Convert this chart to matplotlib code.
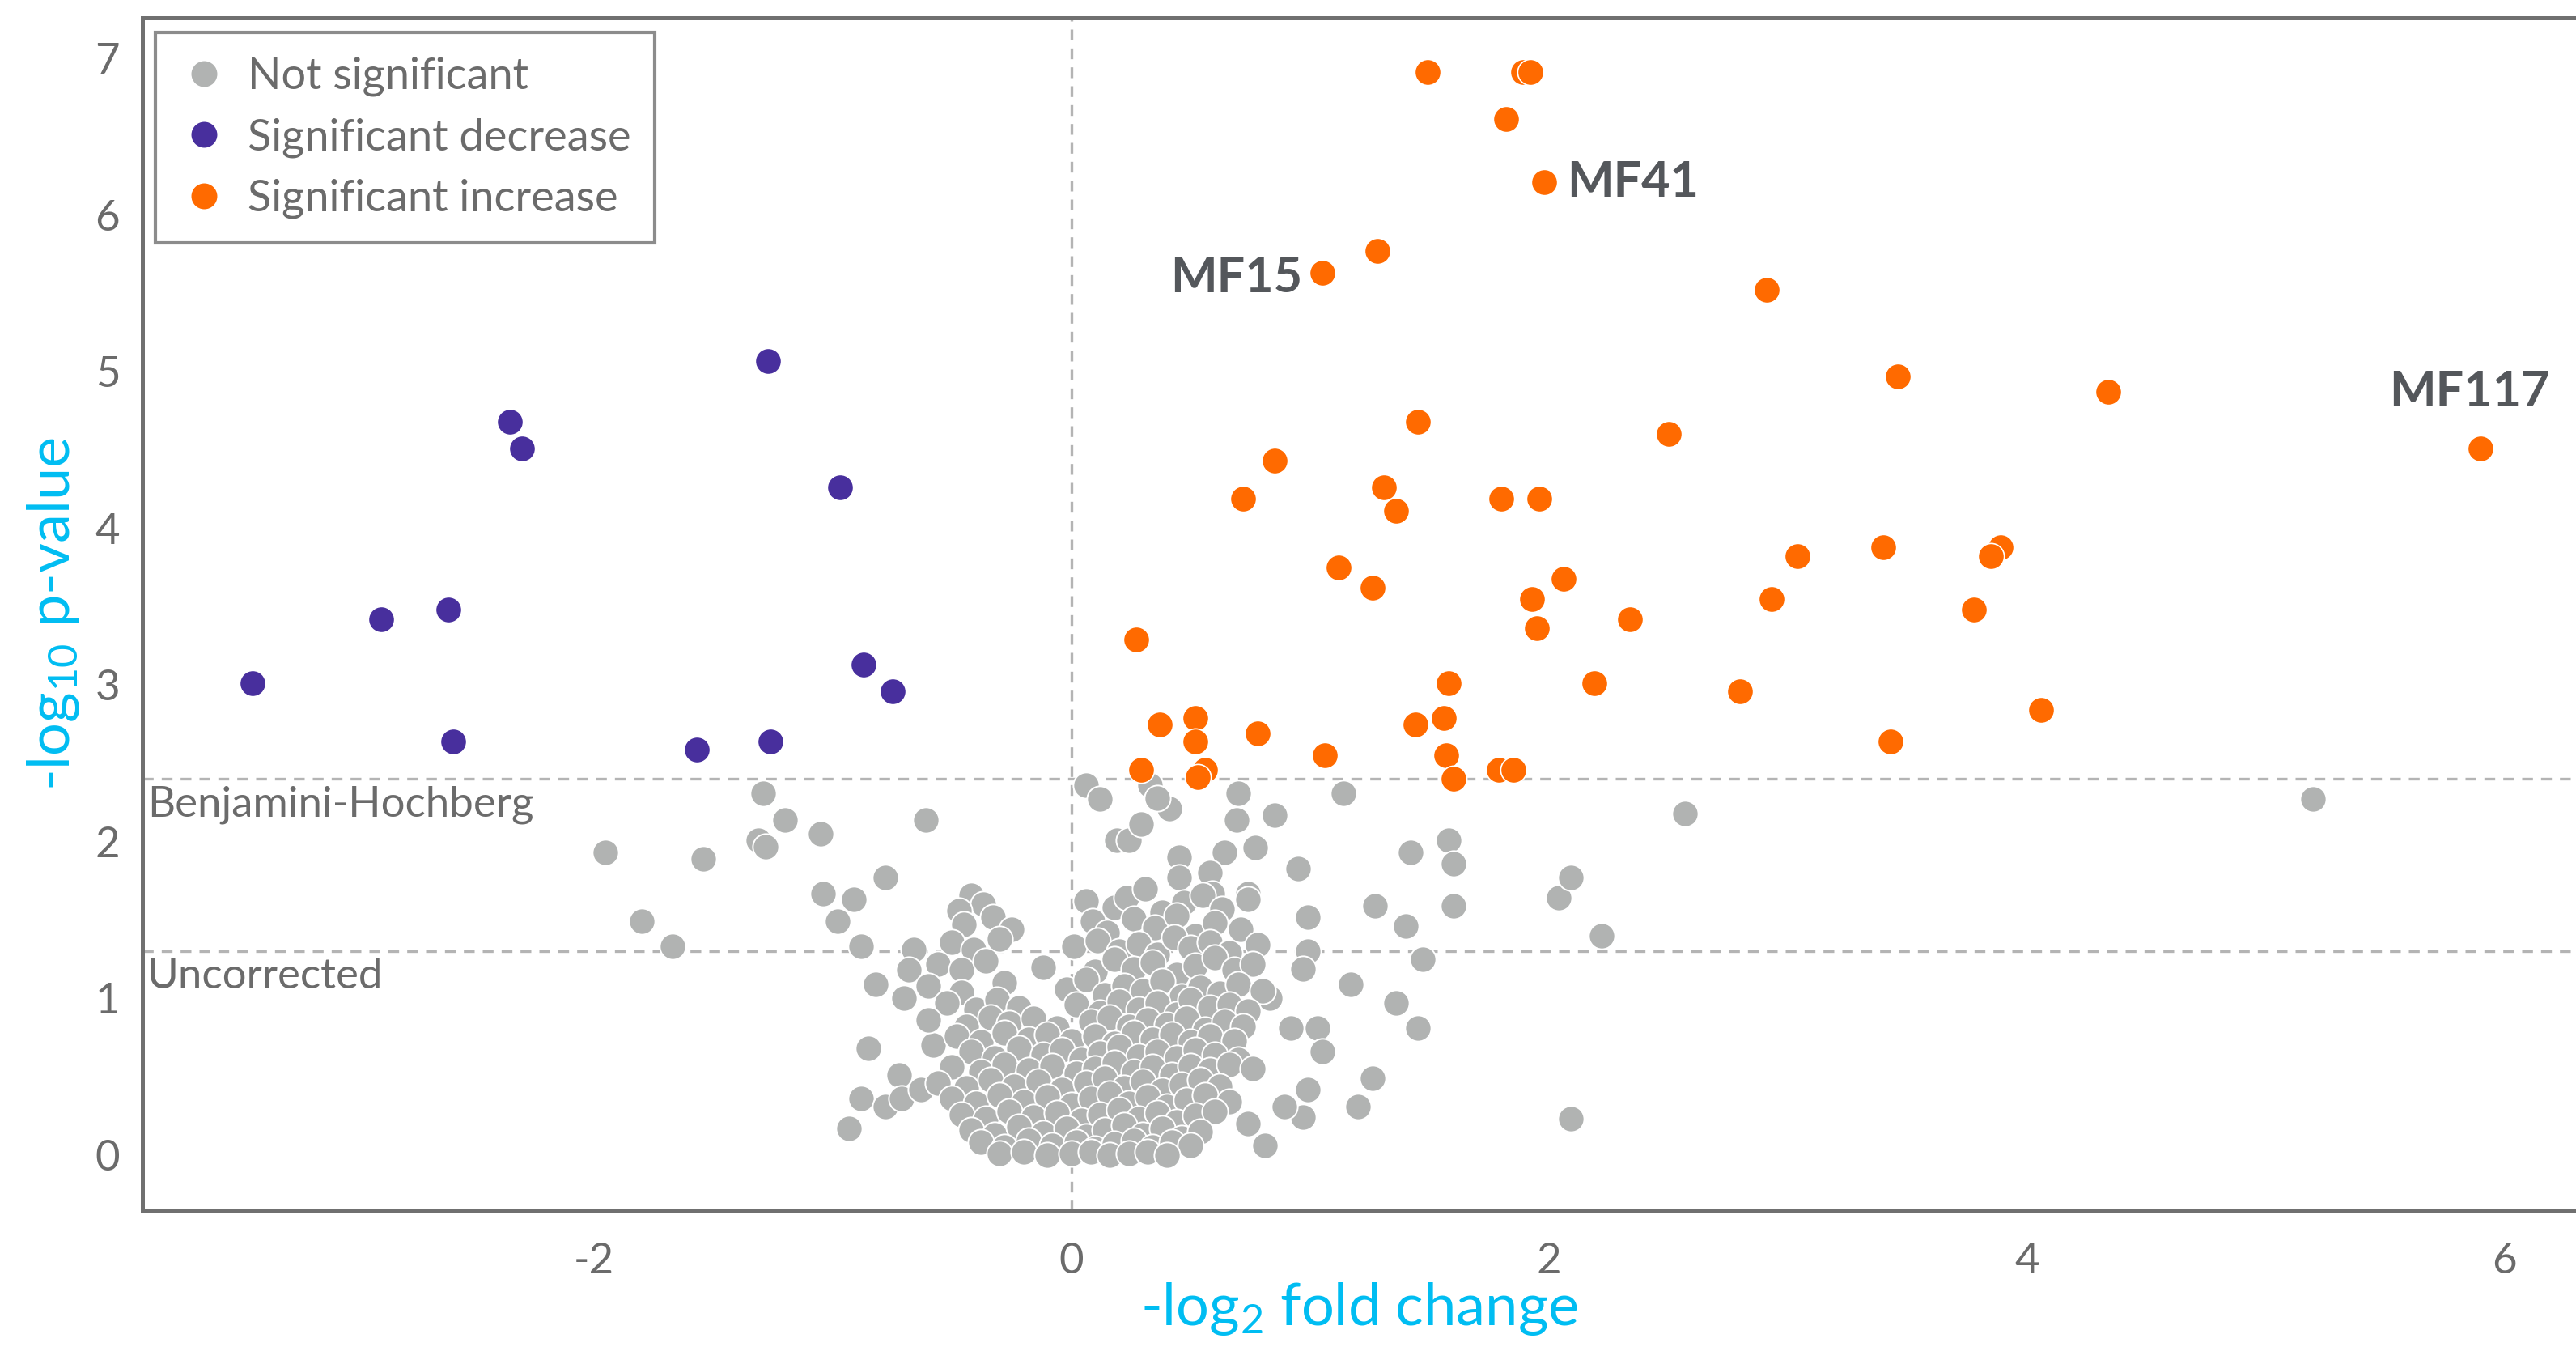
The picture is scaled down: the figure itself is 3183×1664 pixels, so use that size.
import matplotlib
matplotlib.use("Agg")
import matplotlib.pyplot as plt
from matplotlib.lines import Line2D

plt.rcParams['font.family'] = ['Lato', 'DejaVu Sans']
plt.rcParams['mathtext.fontset'] = 'custom'
plt.rcParams['mathtext.rm'] = 'Lato'
plt.rcParams['mathtext.it'] = 'Lato'
plt.rcParams['axes.unicode_minus'] = False

# ---------------- data ----------------
dec_x = [-3.43, -2.89, -2.61, -2.59, -2.35, -2.30, -1.57, -1.27, -1.26, -0.97, -0.87, -0.75]
dec_y = [3.01, 3.42, 3.48, 2.64, 4.68, 4.51, 2.59, 5.07, 2.64, 4.26, 3.13, 2.96]

inc_x = [1.49, 1.89, 1.92, 1.82, 1.98, 1.28, 1.05, 2.91, 3.46, 4.34, 5.90, 1.45, 2.50,
         0.85, 1.31, 0.72, 1.80, 1.96, 1.36, 3.40, 3.89, 3.85, 3.04, 1.12, 2.06, 1.26,
         1.93, 2.93, 3.78, 2.34, 1.95, 0.27, 1.58, 2.19, 2.80, 4.06, 1.56, 0.52, 0.37,
         1.44, 0.78, 0.52, 3.43, 1.06, 1.57, 0.56, 1.79, 1.85, 0.29, 0.53, 1.60]
inc_y = [6.91, 6.91, 6.91, 6.61, 6.21, 5.77, 5.63, 5.52, 4.97, 4.87, 4.51, 4.68, 4.60,
         4.43, 4.26, 4.19, 4.19, 4.19, 4.11, 3.88, 3.88, 3.82, 3.82, 3.75, 3.68, 3.62,
         3.55, 3.55, 3.48, 3.42, 3.36, 3.29, 3.01, 3.01, 2.96, 2.84, 2.79, 2.79, 2.75,
         2.75, 2.69, 2.64, 2.64, 2.55, 2.55, 2.46, 2.46, 2.46, 2.46, 2.41, 2.40]

# outlying non-significant points
ns_out_x = [-1.95, -1.80, -1.67, -1.54, -1.29, -1.31, -1.28, -1.20, -1.05, -0.61, -0.78,
            -1.04, -0.98, -0.91, -0.88, -0.82, -0.70, -0.85, -0.72, -0.88, -0.93, -0.78,
            -0.71, -0.66, -0.68, -0.58, -0.63,
            5.20, 2.57, 1.14, 0.85, 1.42, 1.58, 1.60, 1.60, 1.27, 1.40, 1.47, 2.04, 2.09,
            2.22, 1.36, 1.45, 2.09, 1.26, 1.20, 1.17, 0.99, 0.99, 0.97, 1.03, 1.05, 0.99,
            0.97, 0.89, 0.81, 0.74, 0.92, 0.83, 0.95, 0.74, 0.77, 0.69, 0.70, 0.64, 0.33,
            0.41, 0.36, 0.06, 0.12, 0.19, 0.24, 0.29, 0.45, 0.45, 0.58, 0.59]
ns_out_y = [1.93, 1.49, 1.33, 1.89, 2.31, 2.01, 1.97, 2.14, 2.05, 2.14, 1.77,
            1.67, 1.49, 1.63, 1.33, 1.09, 1.00, 0.68, 0.51, 0.36, 0.17, 0.31,
            0.36, 1.31, 1.18, 0.70, 0.42,
            2.27, 2.18, 2.31, 2.17, 1.93, 2.01, 1.86, 1.59, 1.59, 1.46, 1.25, 1.64, 1.77,
            1.40, 0.97, 0.81, 0.23, 0.49, 0.31, 1.09, 1.52, 1.30, 1.19, 0.81, 0.66, 0.42,
            0.24, 0.31, 0.06, 0.20, 0.81, 1.00, 1.83, 1.67, 1.96, 2.14, 2.31, 1.93, 2.36,
            2.21, 2.28, 2.36, 2.27, 2.01, 2.01, 2.11, 1.90, 1.77, 1.80, 1.67]

# dense cluster of non-significant points
ns_core_x = [-0.42, -0.37, -0.47, 0.06, 0.18, 0.23, 0.31, 0.38, 0.47, 0.55, 0.63, 0.74,
             -0.45, -0.33, -0.25, 0.09, 0.15, 0.26, 0.35, 0.44, 0.52, 0.60, 0.71,
             -0.50, -0.41, -0.30, 0.01, 0.11, 0.20, 0.28, 0.36, 0.43, 0.50, 0.58, 0.66, 0.78,
             -0.56, -0.46, -0.36, -0.12, 0.10, 0.18, 0.26, 0.34, 0.44, 0.52, 0.60, 0.68, 0.76,
             -0.60, -0.46, -0.28, -0.02, 0.06, 0.14, 0.22, 0.30, 0.38, 0.46, 0.54, 0.62, 0.70, 0.80,
             -0.52, -0.40, -0.31, -0.22, 0.02, 0.12, 0.20, 0.28, 0.36, 0.44, 0.50, 0.58, 0.66, 0.74,
             -0.60, -0.44, -0.34, -0.26, -0.16, -0.06, 0.08, 0.16, 0.24, 0.32, 0.40, 0.48, 0.56, 0.64, 0.72,
             -0.48, -0.38, -0.28, -0.18, -0.10, 0.00, 0.10, 0.18, 0.26, 0.34, 0.42, 0.50, 0.58, 0.68,
             -0.42, -0.32, -0.22, -0.12, -0.04, 0.04, 0.12, 0.20, 0.28, 0.36, 0.44, 0.52, 0.60, 0.70,
             -0.50, -0.38, -0.28, -0.18, -0.08, 0.02, 0.10, 0.18, 0.26, 0.34, 0.42, 0.50, 0.58, 0.66, 0.76,
             -0.56, -0.44, -0.34, -0.24, -0.14, -0.04, 0.06, 0.14, 0.22, 0.30, 0.38, 0.46, 0.54, 0.62,
             -0.50, -0.40, -0.30, -0.20, -0.10, 0.00, 0.08, 0.16, 0.24, 0.32, 0.40, 0.48, 0.56, 0.66,
             -0.46, -0.36, -0.26, -0.16, -0.06, 0.04, 0.12, 0.20, 0.28, 0.36, 0.44, 0.52, 0.60,
             -0.42, -0.32, -0.22, -0.12, -0.02, 0.06, 0.14, 0.22, 0.30, 0.38, 0.46, 0.54,
             -0.38, -0.28, -0.18, -0.08, 0.02, 0.10, 0.18, 0.26, 0.34, 0.42, 0.50,
             -0.30, -0.20, -0.10, 0.00, 0.08, 0.16, 0.24, 0.32, 0.40]
ns_core_y = [1.66, 1.60, 1.56, 1.62, 1.58, 1.64, 1.70, 1.55, 1.61, 1.66, 1.57, 1.63,
             1.47, 1.52, 1.44, 1.49, 1.42, 1.51, 1.45, 1.53, 1.40, 1.48, 1.44,
             1.36, 1.31, 1.38, 1.33, 1.37, 1.30, 1.35, 1.28, 1.39, 1.32, 1.36, 1.29, 1.34,
             1.22, 1.18, 1.24, 1.20, 1.17, 1.25, 1.19, 1.23, 1.15, 1.21, 1.26, 1.18, 1.22,
             1.08, 1.04, 1.10, 1.06, 1.12, 1.02, 1.08, 1.05, 1.11, 1.01, 1.07, 1.03, 1.09, 1.05,
             0.97, 0.93, 0.99, 0.94, 0.96, 0.91, 0.98, 0.93, 0.97, 0.90, 0.99, 0.94, 0.96, 0.92,
             0.86, 0.82, 0.88, 0.84, 0.87, 0.81, 0.85, 0.88, 0.82, 0.86, 0.83, 0.87, 0.80, 0.85, 0.82,
             0.76, 0.72, 0.78, 0.74, 0.77, 0.73, 0.76, 0.71, 0.78, 0.74, 0.77, 0.72, 0.76, 0.73,
             0.66, 0.62, 0.68, 0.64, 0.67, 0.61, 0.65, 0.69, 0.63, 0.66, 0.62, 0.67, 0.64, 0.61,
             0.56, 0.53, 0.58, 0.54, 0.57, 0.52, 0.55, 0.59, 0.53, 0.56, 0.51, 0.57, 0.54, 0.58, 0.55,
             0.46, 0.43, 0.48, 0.44, 0.47, 0.42, 0.46, 0.49, 0.43, 0.47, 0.41, 0.45, 0.48, 0.44,
             0.36, 0.33, 0.38, 0.34, 0.37, 0.32, 0.36, 0.39, 0.33, 0.37, 0.31, 0.35, 0.38, 0.34,
             0.26, 0.23, 0.28, 0.24, 0.27, 0.22, 0.26, 0.29, 0.23, 0.27, 0.21, 0.25, 0.28,
             0.16, 0.13, 0.18, 0.14, 0.17, 0.12, 0.16, 0.19, 0.13, 0.17, 0.11, 0.15,
             0.08, 0.05, 0.09, 0.06, 0.08, 0.04, 0.07, 0.09, 0.05, 0.08, 0.06,
             0.01, 0.02, 0.00, 0.01, 0.02, 0.00, 0.01, 0.02, 0.00]

bh_threshold = 2.40
uncorrected_threshold = 1.30

labels_text = ["MF41", "MF15", "MF117"]
labels_x = [1.98, 1.05, 5.90]
labels_y = [6.21, 5.63, 4.51]

x_ticks = [-2, 0, 2, 4, 6]
y_ticks = [0, 1, 2, 3, 4, 5, 6, 7]

# ---------------- style ----------------
GREY = '#b1b3b2'
PURPLE = '#482f9d'
ORANGE = '#ff6a00'
CYAN = '#00bdf2'
TXT = '#6b6b6b'
SPINE = '#707070'
DASH = '#b4b4b4'

fig = plt.figure(figsize=(15.915, 8.32), dpi=200)
ax = fig.add_axes([0.0553, 0.101, 0.9447, 0.886])

S = 135
ax.scatter(ns_out_x + ns_core_x, ns_out_y + ns_core_y, s=S, c=GREY,
           edgecolors='white', linewidths=0.7, zorder=3)
ax.scatter(dec_x, dec_y, s=S, c=PURPLE, edgecolors='white', linewidths=0.6, zorder=4)
ax.scatter(inc_x, inc_y, s=S, c=ORANGE, edgecolors='white', linewidths=0.6, zorder=4)

for yv in (bh_threshold, uncorrected_threshold):
    ax.axhline(yv, color=DASH, lw=1.2, dashes=(4, 3), zorder=1)
ax.axvline(0, color=DASH, lw=1.2, dashes=(4, 3), zorder=1)

ax.text(-3.87, bh_threshold - 0.04, "Benjamini-Hochberg", color=TXT, fontsize=19,
        va='top', ha='left')
ax.text(-3.87, uncorrected_threshold - 0.04, "Uncorrected", color=TXT, fontsize=19,
        va='top', ha='left')

# labels
ax.annotate(labels_text[0], (labels_x[0], labels_y[0]), xytext=(10, 0),
            textcoords='offset points', ha='left', va='center',
            fontsize=22, fontweight='bold', color='#54575b')
ax.annotate(labels_text[1], (labels_x[1], labels_y[1]), xytext=(-9, -2),
            textcoords='offset points', ha='right', va='center',
            fontsize=22, fontweight='bold', color='#54575b')
ax.annotate(labels_text[2], (labels_x[2], labels_y[2]), xytext=(-5, 25),
            textcoords='offset points', ha='center', va='center',
            fontsize=22, fontweight='bold', color='#54575b')

ax.set_xlim(-3.89, 6.30)
ax.set_ylim(-0.357, 7.26)
ax.set_xticks(x_ticks)
ax.set_yticks(y_ticks)
ax.tick_params(length=0, labelsize=19, colors=TXT)
ax.tick_params(axis='x', pad=14)
ax.tick_params(axis='y', pad=10)

for side in ('left', 'top', 'bottom'):
    ax.spines[side].set_color(SPINE)
    ax.spines[side].set_linewidth(1.8)
ax.spines['right'].set_visible(False)

ax.set_xlabel("-log$_2$ fold change", color=CYAN, fontsize=26, labelpad=0)
ax.set_ylabel("-log$_{10}$ p-value", color=CYAN, fontsize=26, labelpad=6)

handles = [
    Line2D([], [], marker='o', ls='', color=GREY, markersize=10.5, label='Not significant'),
    Line2D([], [], marker='o', ls='', color=PURPLE, markersize=10.5, label='Significant decrease'),
    Line2D([], [], marker='o', ls='', color=ORANGE, markersize=10.5, label='Significant increase'),
]
leg = ax.legend(handles=handles, loc='upper left', bbox_to_anchor=(0.0054, 0.9876),
                borderaxespad=0, frameon=True, fancybox=False, fontsize=19.5,
                handletextpad=0.45, labelspacing=0.48, borderpad=0.55, handlelength=1.1)
leg.get_frame().set_edgecolor(SPINE)
leg.get_frame().set_linewidth(1.5)
for t in leg.get_texts():
    t.set_color(TXT)

fig.savefig("out.png", dpi=200)
